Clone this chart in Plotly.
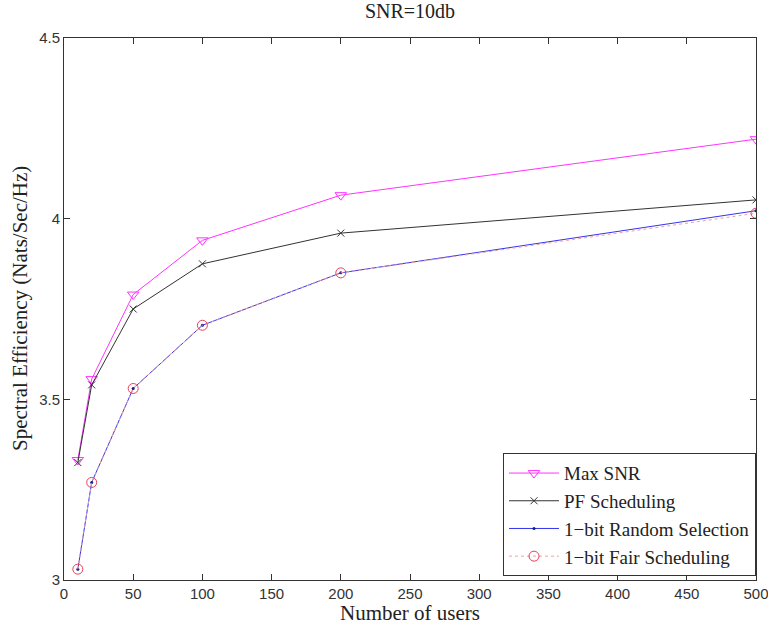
import plotly.graph_objects as go

users = [10, 20, 50, 100, 200, 500]
max_snr = [3.332, 3.556, 3.79, 3.94, 4.065, 4.22]
pf_sched = [3.325, 3.54, 3.75, 3.875, 3.96, 4.052]
random_sel = [3.03, 3.27, 3.53, 3.705, 3.85, 4.022]
fair_sched = [3.03, 3.27, 3.53, 3.705, 3.85, 4.015]

x_ticks = [0, 50, 100, 150, 200, 250, 300, 350, 400, 450, 500]
y_ticks = [3, 3.5, 4, 4.5]
y_tick_text = ["3", "3.5", "4", "4.5"]

serif = "Liberation Serif, Times New Roman, serif"
sans = "Liberation Sans, Arial, sans-serif"

fig = go.Figure()
fig.add_trace(go.Scatter(x=users, y=max_snr, name="Max SNR", mode="lines+markers",
                         line=dict(color="#ff33ff", width=1),
                         marker=dict(symbol="triangle-down-open", size=10, color="#ff33ff", line=dict(width=1))))
fig.add_trace(go.Scatter(x=users, y=pf_sched, name="PF Scheduling", mode="lines+markers",
                         line=dict(color="#333333", width=1),
                         marker=dict(symbol="x-thin-open", size=7, color="#333333", line=dict(width=1, color="#333333"))))
fig.add_trace(go.Scatter(x=users, y=random_sel, name="1\u2212bit Random Selection", mode="lines+markers",
                         line=dict(color="#3333ee", width=1),
                         marker=dict(symbol="circle", size=3, color="#1a1a80")))
fig.add_trace(go.Scatter(x=users, y=fair_sched, name="1\u2212bit Fair Scheduling", mode="lines+markers",
                         line=dict(color="#f0a0a0", width=1, dash="dot"),
                         marker=dict(symbol="circle-open", size=10, color="#e8405a", line=dict(width=1))))

axis_common = dict(showline=True, linecolor="#333333", linewidth=1, mirror="ticks",
                   ticks="inside", ticklen=6, tickcolor="#333333", showgrid=False, zeroline=False,
                   automargin=False, ticklabeloverflow="allow",
                   tickfont=dict(family=sans, size=15, color="#333333"))

fig.update_layout(
    width=768, height=626,
    margin=dict(l=64, r=12, t=38, b=46),
    paper_bgcolor="white", plot_bgcolor="white",
    title=dict(text="SNR=10db", x=0.5, xanchor="center", xref="paper", y=1 - 4 / 626, yanchor="top",
               font=dict(family=serif, size=20, color="#222222")),
    xaxis=dict(range=[0, 500], tickvals=x_ticks, **axis_common),
    yaxis=dict(range=[3, 4.5], tickvals=y_ticks, ticktext=y_tick_text, **axis_common),
    legend=dict(x=1.0, y=0.007, xanchor="right", yanchor="bottom",
                bgcolor="white", bordercolor="#333333", borderwidth=1,
                font=dict(family=serif, size=19, color="#222222"),
                itemwidth=50, tracegroupgap=0),
    showlegend=True,
    annotations=[
        dict(text="Number of users", xref="paper", yref="paper", x=0.5, y=0, xanchor="center",
             yanchor="middle", yshift=-33, showarrow=False,
             font=dict(family=serif, size=21, color="#222222")),
        dict(text="Spectral Efficiency (Nats/Sec/Hz)", xref="paper", yref="paper", x=0, y=0.5,
             xanchor="center", yanchor="middle", xshift=-44, textangle=-90, showarrow=False,
             font=dict(family=serif, size=21, color="#222222")),
    ],
)

fig.write_html("out.html", config={"displayModeBar": False},
               post_script="document.body.style.margin='0';document.body.style.overflow='hidden';")
